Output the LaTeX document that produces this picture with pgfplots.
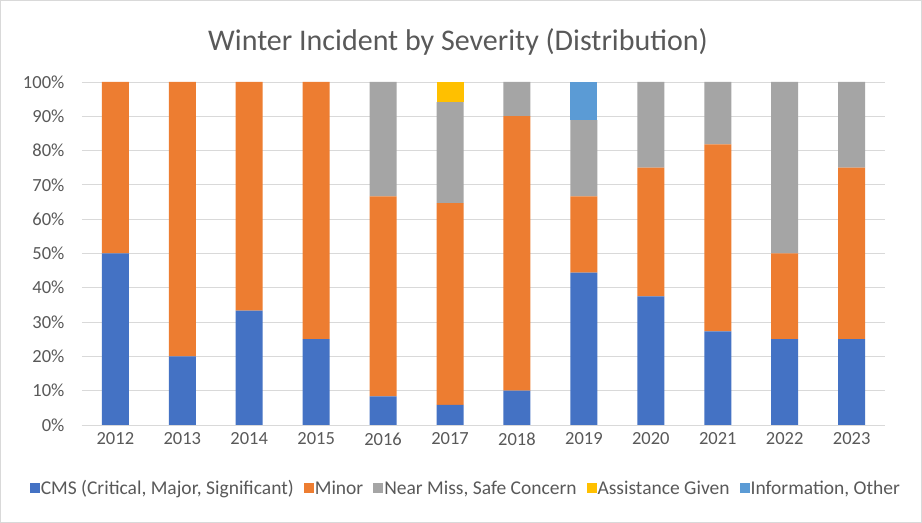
\documentclass[border=0pt]{standalone}
\usepackage{fontspec}
\setmainfont{Carlito}
\usepackage{pgfplots}
\pgfplotsset{compat=1.18}
\definecolor{cblue}{HTML}{4472C4}
\definecolor{corange}{HTML}{ED7D31}
\definecolor{cgray}{HTML}{A5A5A5}
\definecolor{cgold}{HTML}{FFC000}
\definecolor{clblue}{HTML}{5B9BD5}
\definecolor{txt}{HTML}{595959}
\definecolor{gridc}{HTML}{D9D9D9}
\begin{document}
\begin{tikzpicture}
\draw[draw=gridc, fill=white, line width=0.75pt] (0.5pt,0.5pt) rectangle (921.5pt,522.5pt);
\node[text=txt, font=\fontsize{30}{34}\selectfont] at (458pt,481pt) {Winter Incident by Severity (Distribution)};
\begin{axis}[
  at={(82pt,98pt)}, anchor=south west,
  scale only axis, width=803pt, height=343pt,
  xmin=-0.5, xmax=11.5, ymin=0, ymax=100,
  ybar stacked, bar width=27pt,
  xtick={0,...,11},
  xticklabels={2012,2013,2014,2015,2016,2017,2018,2019,2020,2021,2022,2023},
  ytick={0,10,...,100},
  yticklabel={\pgfmathprintnumber{\tick}\%},
  /pgf/number format/assume math mode=true,
  ticklabel style={text=txt, font=\fontsize{18.5}{21}\selectfont},
  major tick length=0pt,
  ymajorgrids, grid style={draw=gridc, line width=0.75pt},
  axis lines*=left,
  x axis line style={draw=gridc, line width=0.75pt},
  y axis line style={draw=none},
  xticklabel style={yshift=-4pt},
  yticklabel style={xshift=-14pt},
  legend style={at={(0.478,-0.184)}, anchor=center, draw=none, fill=none,
    legend columns=-1, font=\fontsize{19.5}{22}\selectfont, text=txt,
    /tikz/every even column/.append style={column sep=8pt},
    /tikz/every odd column/.append style={column sep=-1pt}},
  legend image code/.code={\fill[#1] (0pt,-5pt) rectangle (10pt,5pt);},
]
\addplot[fill=cblue, draw=none] coordinates {(0,50) (1,20) (2,33.33) (3,25) (4,8.33) (5,5.88) (6,10) (7,44.44) (8,37.5) (9,27.27) (10,25) (11,25)};
\addplot[fill=corange, draw=none] coordinates {(0,50) (1,80) (2,66.67) (3,75) (4,58.33) (5,58.82) (6,80) (7,22.22) (8,37.5) (9,54.55) (10,25) (11,50)};
\addplot[fill=cgray, draw=none] coordinates {(0,0) (1,0) (2,0) (3,0) (4,33.34) (5,29.42) (6,10) (7,22.23) (8,25) (9,18.18) (10,50) (11,25)};
\addplot[fill=cgold, draw=none] coordinates {(0,0) (1,0) (2,0) (3,0) (4,0) (5,5.88) (6,0) (7,0) (8,0) (9,0) (10,0) (11,0)};
\addplot[fill=clblue, draw=none] coordinates {(0,0) (1,0) (2,0) (3,0) (4,0) (5,0) (6,0) (7,11.11) (8,0) (9,0) (10,0) (11,0)};
\legend{{CMS (Critical, Major, Significant)}, Minor, {Near Miss, Safe Concern}, {Assistance Given}, {Information, Other}}
\end{axis}
\end{tikzpicture}
\end{document}
